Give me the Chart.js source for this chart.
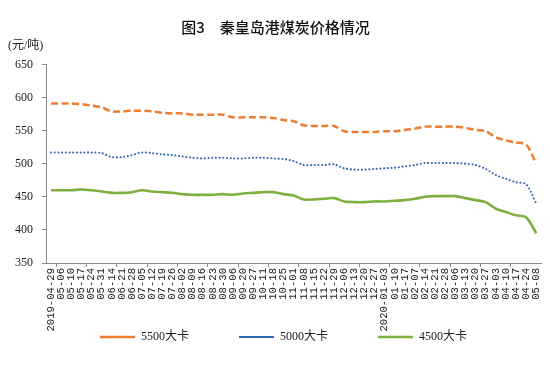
<!DOCTYPE html>
<html>
<head>
<meta charset="utf-8">
<script src="https://cdn.jsdelivr.net/npm/chart.js@4/dist/chart.umd.min.js"></script>
<style>
  html, body { margin: 0; padding: 0; background: #fff; }
  #wrap { width: 550px; height: 370px; }
</style>
</head>
<body>
<div id="wrap"><canvas id="coalChart" width="550" height="370"></canvas></div>
<script>
'use strict';

// 日期
const dates = ['2019-04-29', '05-06', '05-10', '05-17', '05-24', '05-31', '06-14', '06-21', '06-28', '07-05',
  '07-12', '07-19', '07-26', '08-02', '08-09', '08-16', '08-23', '08-30', '09-06', '09-20',
  '09-27', '10-11', '10-18', '10-25', '11-01', '11-08', '11-15', '11-22', '11-29', '12-06',
  '12-13', '12-20', '12-27', '2020-01-03', '01-10', '01-17', '02-07', '02-14', '02-21', '02-28',
  '03-06', '03-13', '03-20', '03-27', '04-03', '04-10', '04-17', '04-24', '05-08'];

// 价格 (元/吨)
const price5500 = [591, 591, 591, 590, 588, 585, 579, 579, 580, 580,
  579, 577, 576, 576, 574, 574, 574, 574, 570, 570,
  570, 570, 569, 566, 564, 558, 557, 557, 557, 549,
  548, 548, 548, 549, 549, 551, 553, 556, 556, 556,
  556, 554, 551, 549, 540, 535, 532, 529, 500];
const price5000 = [517, 517, 517, 517, 517, 516, 510, 510, 513, 517,
  516, 514, 513, 511, 509, 508, 509, 509, 508, 508,
  509, 509, 508, 507, 504, 498, 498, 498, 499, 493,
  491, 491, 492, 493, 494, 496, 498, 501, 501, 501,
  501, 500, 498, 492, 483, 477, 472, 469, 440];
const price4500 = [460, 460, 460, 461, 460, 458, 456, 456, 457, 460,
  458, 457, 456, 454, 453, 453, 453, 454, 453, 455,
  456, 457, 457, 454, 452, 446, 446, 447, 448, 443,
  442, 442, 443, 443, 444, 445, 447, 450, 451, 451,
  451, 448, 445, 442, 432, 427, 422, 419, 395];

const seriesNames = ['5500大卡', '5000大卡', '4500大卡'];
const yTicks = [350, 400, 450, 500, 550, 600, 650];

const serif = "'Liberation Serif', 'Noto Sans CJK SC', serif";
const axisGray = '#8c8c8c';

// 图例往右挪一点；x轴标签区域放大，免得被裁掉
const layoutTweak = {
  id: 'layoutTweak',
  afterLayout(chart) {
    chart.legend.left += 8;
    chart.legend.right += 8;
    chart.scales.x.bottom = chart.scales.x.top + 75;
  }
};

const ctx = document.getElementById('coalChart').getContext('2d');
const chart = new Chart(ctx, {
  type: 'line',
  data: {
    labels: dates,
    datasets: [{
      label: seriesNames[0],
      data: price5500,
      borderColor: '#ED7D31',
      backgroundColor: '#ED7D31',
      borderWidth: 2.5,
      borderDash: [7, 3.5],
      tension: 0.3
    }, {
      label: seriesNames[1],
      data: price5000,
      borderColor: '#2E64B0',
      backgroundColor: '#2E64B0',
      borderWidth: 2.1,
      borderDash: [0, 3.7],
      borderCapStyle: 'round',
      tension: 0.3
    }, {
      label: seriesNames[2],
      data: price4500,
      borderColor: '#7FAF3F',
      backgroundColor: '#7FAF3F',
      borderWidth: 2.6,
      tension: 0.3
    }]
  },
  plugins: [layoutTweak],
  options: {
    responsive: false,
    animation: false,
    elements: { point: { radius: 0 } },
    layout: { padding: { left: 8, right: 7, top: 0, bottom: 17 } },
    plugins: {
      title: {
        display: true,
        text: '图3　秦皇岛港煤炭价格情况',
        color: '#111',
        font: { family: "'Noto Sans CJK SC', sans-serif", size: 15, weight: 500 },
        padding: { top: 18, bottom: 0 }
      },
      subtitle: {
        display: true,
        text: '(元/吨)',
        align: 'start',
        color: '#222',
        font: { family: serif, size: 12 },
        padding: { top: 3, bottom: 11 }
      },
      legend: {
        position: 'bottom',
        labels: {
          usePointStyle: true,
          pointStyle: 'line',
          pointStyleWidth: 35,
          color: '#222',
          font: { family: serif, size: 12 },
          padding: 50
        }
      },
      tooltip: { enabled: false }
    },
    scales: {
      x: {
        offset: true,
        border: { color: axisGray },
        grid: {
          offset: true,
          drawOnChartArea: false,
          tickLength: 4,
          color: c => (c.index % 3 === 1 ? axisGray : 'rgba(0,0,0,0)')
        },
        afterFit: scale => { scale.height = 18; },
        ticks: {
          autoSkip: false,
          minRotation: 90,
          maxRotation: 90,
          padding: 1,
          color: '#222',
          font: { family: "'Liberation Mono', monospace", size: 10.6 }
        }
      },
      y: {
        min: 350,
        max: 650,
        border: { color: axisGray },
        grid: { drawOnChartArea: false, tickLength: 4, color: axisGray },
        afterBuildTicks: scale => { scale.ticks = yTicks.map(v => ({ value: v })); },
        afterFit: scale => { scale.width = 38; },
        ticks: {
          padding: 9,
          color: '#222',
          font: { family: serif, size: 12 }
        }
      }
    }
  }
});
</script>
</body>
</html>
